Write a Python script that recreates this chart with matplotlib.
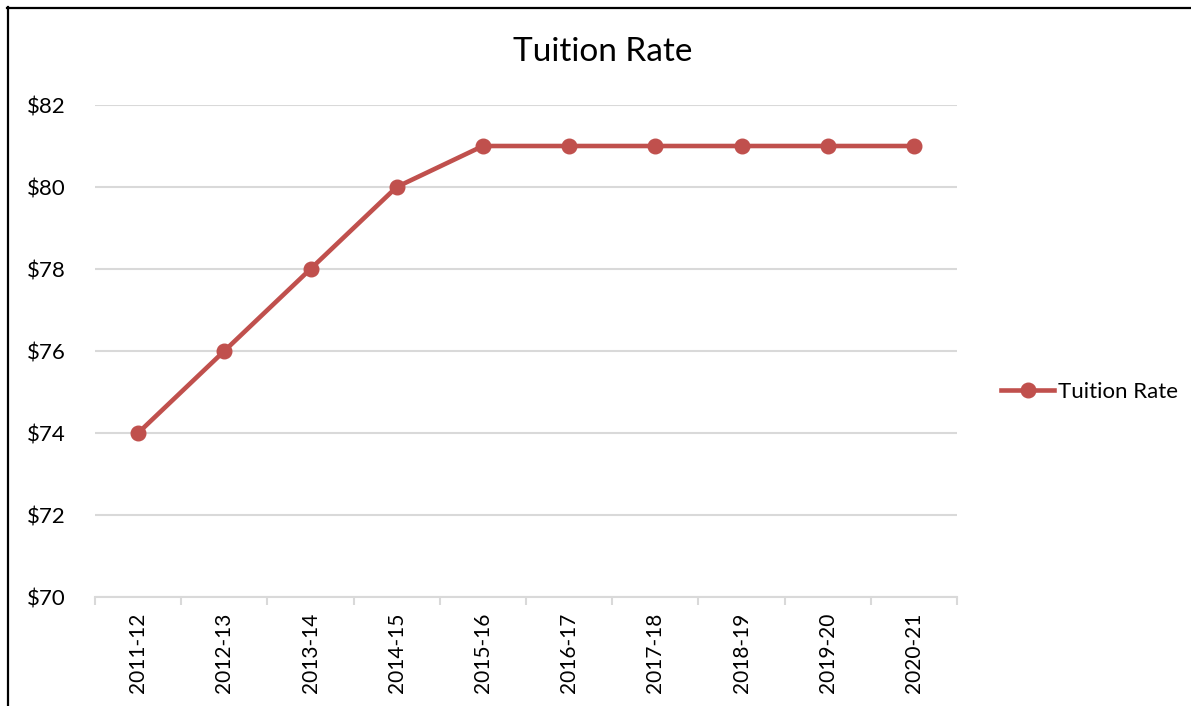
import matplotlib
matplotlib.use('Agg')
import matplotlib.pyplot as plt
from matplotlib.lines import Line2D
import numpy as np

plt.rcParams['font.family'] = ['Lato', 'DejaVu Sans']

anos = ['2011-12', '2012-13', '2013-14', '2014-15', '2015-16',
        '2016-17', '2017-18', '2018-19', '2019-20', '2020-21']
taxa = [74, 76, 78, 80, 81, 81, 81, 81, 81, 81]
yticks = [70, 72, 74, 76, 78, 80, 82]

cor = '#C0504D'
cinza = '#D9D9D9'

fig = plt.figure(figsize=(11.91, 7.06), dpi=100)
ax = fig.add_axes([95/1191, 1 - 597/706, (957 - 95)/1191, (597 - 105)/706])

x = np.arange(len(anos))
ax.plot(x, taxa, '-o', color=cor, linewidth=3.3, markersize=10.5, label='Tuition Rate',
        zorder=3)

ax.set_xlim(-0.5, len(anos) - 0.5)
ax.set_ylim(70, 82)
ax.set_yticks(yticks)
ax.set_yticklabels(['$' + str(v) for v in yticks])
ax.yaxis.grid(True, color=cinza, linewidth=1.5)
ax.set_axisbelow(True)

# ticks nas divisas das categorias, rotulos no centro
ax.set_xticks(np.arange(len(anos) + 1) - 0.5)
ax.set_xticklabels([])
ax.set_xticks(x, minor=True)
ax.set_xticklabels(anos, minor=True, rotation=90)
ax.tick_params(axis='x', which='major', length=6, width=1.5, color=cinza)
ax.tick_params(axis='x', which='minor', length=0, pad=11, labelsize=15)
ax.tick_params(axis='y', length=0, pad=21, labelsize=16)

for s in ['top', 'right', 'left']:
    ax.spines[s].set_visible(False)
ax.spines['bottom'].set_color(cinza)
ax.spines['bottom'].set_linewidth(1.5)

fig.text(603/1191, 1 - 52/706, 'Tuition Rate', fontsize=24, ha='center', va='center')

ax.legend(loc='center left', bbox_to_anchor=(990/1191, 1 - 392/706),
          bbox_transform=fig.transFigure, frameon=False, fontsize=16,
          handlelength=2.4, handletextpad=0.15, borderpad=0)

# moldura (so esquerda e topo aparecem)
fig.add_artist(Line2D([7.5/1191, 7.5/1191], [0, 1 - 7/706], color='black',
                      linewidth=1.6, transform=fig.transFigure))
fig.add_artist(Line2D([7/1191, 1], [1 - 7.5/706, 1 - 7.5/706], color='black',
                      linewidth=1.6, transform=fig.transFigure))

fig.savefig('out.png', dpi=100)
